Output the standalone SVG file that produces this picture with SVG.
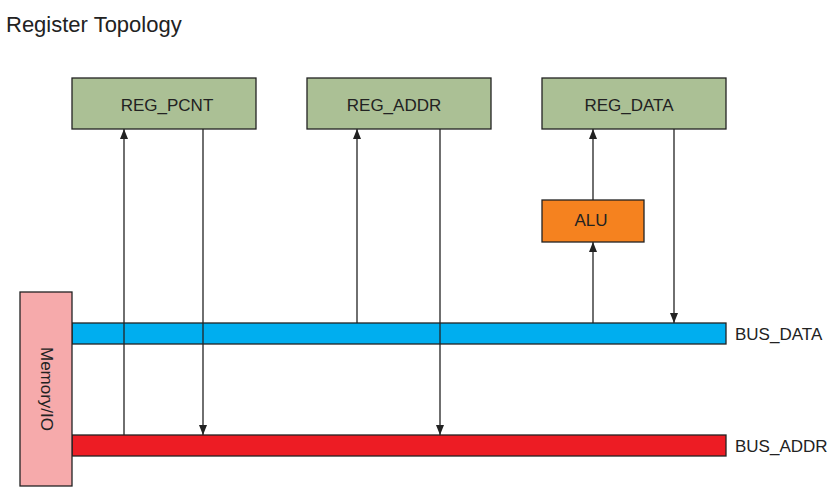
<svg xmlns="http://www.w3.org/2000/svg" width="839" height="496" viewBox="0 0 839 496">
<style>
text{font-family:"Liberation Sans",Arial,sans-serif;fill:#222}
.reg{fill:#abc095;stroke:#222;stroke-width:1.3}
.lbl{font-size:17px;text-anchor:middle}
.side{font-size:17px}
.c{stroke:#222;stroke-width:1.3;fill:none;marker-end:url(#ah)}
</style>
<defs>
<marker id="ah" markerWidth="10" markerHeight="10" viewBox="0 0 10 10" refX="10" refY="5" orient="auto" markerUnits="userSpaceOnUse">
<path d="M0,1 L10,5 L0,9 Z" fill="#222"/>
</marker>
</defs>
<rect width="839" height="496" fill="#fff"/>
<text x="6" y="32" style="font-size:22px">Register Topology</text>
<g id="bus_data"><rect x="72" y="323" width="654" height="21" fill="#00aeef" stroke="#222" stroke-width="1.3"/><text class="side" x="735" y="340">BUS_DATA</text></g>
<g id="bus_addr"><rect x="72" y="435" width="654" height="21" fill="#ed1c24" stroke="#222" stroke-width="1.3"/><text class="side" x="735" y="452">BUS_ADDR</text></g>
<g id="connectors">
<line class="c" x1="124" y1="435" x2="124" y2="129"/>
<line class="c" x1="203" y1="129" x2="203" y2="435"/>
<line class="c" x1="357" y1="323" x2="357" y2="129"/>
<line class="c" x1="440" y1="129" x2="440" y2="435"/>
<line class="c" x1="593" y1="323" x2="593" y2="242"/>
<line class="c" x1="593" y1="200" x2="593" y2="129"/>
<line class="c" x1="674" y1="129" x2="674" y2="323"/>
</g>
<g id="reg_pcnt"><rect class="reg" x="72" y="78" width="184" height="51"/><text class="lbl" x="167" y="111">REG_PCNT</text></g>
<g id="reg_addr"><rect class="reg" x="307" y="78" width="184" height="51"/><text class="lbl" x="394" y="111">REG_ADDR</text></g>
<g id="reg_data"><rect class="reg" x="542" y="78" width="184" height="51"/><text class="lbl" x="629" y="111">REG_DATA</text></g>
<g id="alu"><rect x="542" y="200" width="102" height="42" fill="#f5821f" stroke="#222" stroke-width="1.3"/><text class="lbl" x="591" y="226">ALU</text></g>
<g id="memory_io"><rect x="20" y="292" width="52" height="194" fill="#f6aaab" stroke="#222" stroke-width="1.3"/><text class="lbl" transform="translate(41,389) rotate(90)">Memory/IO</text></g>
</svg>
